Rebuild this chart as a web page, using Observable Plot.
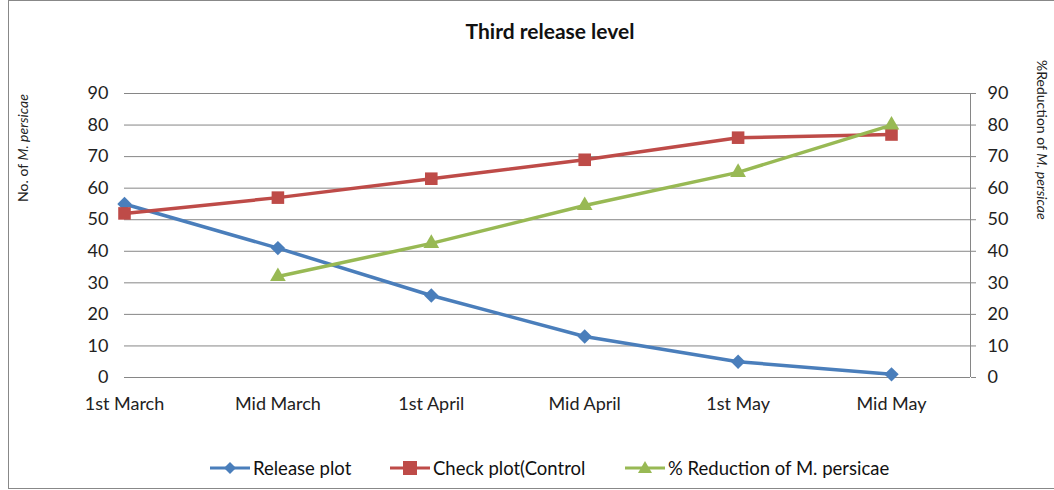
<!DOCTYPE html>
<html><head><meta charset="utf-8">
<script src="https://cdn.jsdelivr.net/npm/d3@7"></script>
<script src="https://cdn.jsdelivr.net/npm/@observablehq/plot@0.6"></script>
<style>
body{margin:0;background:#fff;font-family:Lato,"Noto Sans",sans-serif;}
#wrap{position:relative;width:1054px;height:490px;overflow:hidden;}
#frame{position:absolute;left:8px;top:0;width:1100px;height:487px;border-left:1px solid #888;border-top:1px solid #888;border-bottom:1px solid #888;}
#title{position:absolute;top:18px;left:0;width:1100px;text-align:center;font-weight:bold;font-size:21px;color:#111;}
.ylab{position:absolute;font-size:14px;color:#222;white-space:nowrap;}
#legend{position:absolute;top:457px;left:0;width:1054px;font-size:18.5px;color:#111;}
.li{position:absolute;display:flex;align-items:center;}
#chart{position:absolute;left:0;top:0;}
</style></head><body>
<div id="wrap">
<div id="frame"></div>
<div id="chart"></div>
<div id="title">Third release level</div>
<div class="ylab" id="ylL" style="left:22px;top:148px;transform:translate(-50%,-50%) rotate(-90deg);">No. of <i>M. persicae</i></div>
<div class="ylab" id="ylR" style="left:1051px;top:60px;transform-origin:0 0;transform:rotate(90deg);">%Reduction of <i>M. persicae</i></div>
<div id="legend"></div>
</div>
<script>
const categories = ["1st March","Mid March","1st April","Mid April","1st May","Mid May"];
const releasePlot = [55, 41, 26, 13, 5, 1];
const checkPlot = [52, 57, 63, 69, 76, 77];
const reduction = [null, 32, 42.5, 54.5, 65, 80];
const yTicks = [0,10,20,30,40,50,60,70,80,90];
const seriesNames = ["Release plot","Check plot(Control","% Reduction of M. persicae"];
const colors = ["#4A7EBB","#BE4B48","#98B954"];

const rows = [];
categories.forEach((c,i)=>{
  rows.push({i, cat:c, s:seriesNames[0], v:releasePlot[i]});
  rows.push({i, cat:c, s:seriesNames[1], v:checkPlot[i]});
  rows.push({i, cat:c, s:seriesNames[2], v:reduction[i]});
});
const bySeries = s => rows.filter(d=>d.s===s);
const valid = s => rows.filter(d=>d.s===s && d.v!=null);

const chart = Plot.plot({
  width:1054, height:490,
  marginLeft:124, marginRight:84, marginTop:93, marginBottom:113,
  style:{fontFamily:"Lato, 'Noto Sans', sans-serif", fontSize:"18px", color:"#222", background:"transparent"},
  x:{type:"linear", domain:[0, 5.515]},
  y:{domain:[0,90]},
  marks:[
    Plot.ruleY(yTicks,{stroke:"#868686", strokeWidth:1}),
    Plot.axisY({ticks:yTicks, anchor:"left", tickSize:0, tickPadding:16, label:null, fill:"#222"}),
    Plot.axisY({ticks:yTicks, anchor:"right", tickSize:5, tickPadding:12, label:null, fill:"#222", stroke:"#868686"}),
    Plot.ruleX([5.515],{stroke:"#868686"}),
    Plot.axisX({ticks:d3.range(categories.length), tickFormat:i=>categories[i], tickSize:0, tickPadding:20, label:null, fill:"#222"}),
    Plot.line(bySeries(seriesNames[0]),{x:"i", y:"v", stroke:colors[0], strokeWidth:3.5}),
    Plot.line(bySeries(seriesNames[1]),{x:"i", y:"v", stroke:colors[1], strokeWidth:3.5}),
    Plot.line(bySeries(seriesNames[2]),{x:"i", y:"v", stroke:colors[2], strokeWidth:3.5}),
    Plot.dot(valid(seriesNames[0]),{x:"i", y:"v", symbol:"diamond2", r:6.5, fill:colors[0], stroke:null}),
    Plot.dot(valid(seriesNames[1]),{x:"i", y:"v", symbol:"square2", r:8, fill:colors[1], stroke:null}),
    Plot.dot(valid(seriesNames[2]),{x:"i", y:"v", symbol:"triangle2", r:7.5, fill:colors[2], stroke:null})
  ]
});
document.getElementById("chart").appendChild(chart);

// legend
const leg = document.getElementById("legend");
const lx = [210, 390, 625];
const shapes = [
  c=>`<path d="M20,4 L26,10 L20,16 L14,10Z" fill="${c}"/>`,
  c=>`<rect x="13" y="3" width="14" height="14" fill="${c}"/>`,
  c=>`<path d="M20,3 L27,15 L13,15Z" fill="${c}"/>`
];
seriesNames.forEach((n,k)=>{
  const d=document.createElement("div");
  d.className="li"; d.style.left=lx[k]+"px"; d.style.top="0px";
  d.innerHTML=`<svg width="42" height="20"><line x1="0" x2="40" y1="10" y2="10" stroke="${colors[k]}" stroke-width="3"/>${shapes[k](colors[k])}</svg><span style="margin-left:1px">${n}</span>`;
  leg.appendChild(d);
});
</script>
</body></html>
